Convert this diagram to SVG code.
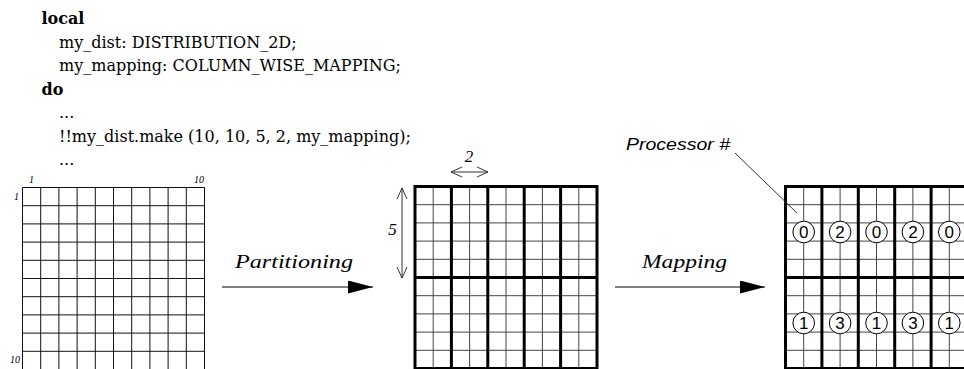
<svg xmlns="http://www.w3.org/2000/svg" width="964" height="369" viewBox="0 0 964 369">
<style>
.code{font-family:"DejaVu Serif","Liberation Serif",serif;font-size:16px;fill:#000}
.kw{font-weight:bold}
.idx{font-family:"Liberation Serif",serif;font-style:italic;font-size:10px;fill:#000}
.lbl{font-family:"Liberation Serif",serif;font-style:italic;font-size:18px;fill:#000}
.dim{font-family:"Liberation Serif",serif;font-style:italic;font-size:17px;fill:#000}
.proc{font-family:"Liberation Sans",Arial,sans-serif;font-style:italic;font-size:17px;fill:#000}
.num{font-family:"Liberation Sans",Arial,sans-serif;font-size:17px;fill:#000;text-anchor:middle}
.g1{stroke:#111;stroke-width:1;fill:none}
.thin{stroke:#444;stroke-width:1;fill:none}
.thick{stroke:#000;stroke-width:3;fill:none;stroke-linecap:square}
.pc{fill:#fff;stroke:#000;stroke-width:1}
.arr{stroke:#000;stroke-width:1.2;fill:none}
.darr{stroke:#333;stroke-width:1;fill:none}
</style>
<defs>
<marker id="solid" markerUnits="userSpaceOnUse" viewBox="0 0 25 13" refX="25" refY="6.5" markerWidth="25" markerHeight="13" orient="auto">
<path d="M0 0 L25 6.5 L0 13 Z" fill="#000"/>
</marker>
<marker id="open" markerUnits="userSpaceOnUse" viewBox="0 0 12 12" refX="11.5" refY="6" markerWidth="12" markerHeight="12" orient="auto-start-reverse">
<path d="M0.5 1 L11.5 6 L0.5 11" fill="none" stroke="#333" stroke-width="1"/>
</marker>
</defs>

<g id="code">
<text class="code kw" x="41.5" y="24">local</text>
<text class="code" x="59" y="47.5">my_dist: DISTRIBUTION_2D;</text>
<text class="code" x="59" y="71">my_mapping: COLUMN_WISE_MAPPING;</text>
<text class="code kw" x="41.5" y="94.5">do</text>
<text class="code" x="59" y="118">...</text>
<text class="code" x="59" y="141.5">!!my_dist.make (10, 10, 5, 2, my_mapping);</text>
<text class="code" x="59" y="165">...</text>
</g>

<g id="grid-source">
<path class="g1" d="M22.5 187.5V369.5M40.7 187.5V369.5M58.9 187.5V369.5M77.1 187.5V369.5M95.3 187.5V369.5M113.5 187.5V369.5M131.7 187.5V369.5M149.9 187.5V369.5M168.1 187.5V369.5M186.3 187.5V369.5M204.5 187.5V369.5M22.5 187.5H204.5M22.5 205.7H204.5M22.5 223.9H204.5M22.5 242.1H204.5M22.5 260.3H204.5M22.5 278.5H204.5M22.5 296.7H204.5M22.5 314.9H204.5M22.5 333.1H204.5M22.5 351.3H204.5M22.5 369.5H204.5"/>
<text class="idx" x="31.6" y="183" text-anchor="middle">1</text>
<text class="idx" x="204" y="183" text-anchor="end">10</text>
<text class="idx" x="19" y="199.5" text-anchor="end">1</text>
<text class="idx" x="20" y="363" text-anchor="end">10</text>
</g>

<g id="grid-partitioned">
<path class="thin" d="M433.2 186.5V368.5M469.6 186.5V368.5M506 186.5V368.5M542.4 186.5V368.5M578.8 186.5V368.5M415 204.7H597M415 222.9H597M415 241.1H597M415 259.3H597M415 295.7H597M415 313.9H597M415 332.1H597M415 350.3H597"/>
<path class="thick" d="M415 186.5V368.5M451.4 186.5V368.5M487.8 186.5V368.5M524.2 186.5V368.5M560.6 186.5V368.5M597 186.5V368.5M415 186.5H597M415 277.5H597M415 368.5H597"/>
</g>

<g id="grid-mapped">
<path class="thin" d="M803.7 186.5V368.5M840.1 186.5V368.5M876.5 186.5V368.5M912.9 186.5V368.5M949.3 186.5V368.5M785.5 204.7H967.5M785.5 222.9H967.5M785.5 241.1H967.5M785.5 259.3H967.5M785.5 295.7H967.5M785.5 313.9H967.5M785.5 332.1H967.5M785.5 350.3H967.5"/>
<path class="thick" d="M785.5 186.5V368.5M821.9 186.5V368.5M858.3 186.5V368.5M894.7 186.5V368.5M931.1 186.5V368.5M967.5 186.5V368.5M785.5 186.5H967.5M785.5 277.5H967.5M785.5 368.5H967.5"/>
</g>

<g id="processors">
<g id="p-top">
<circle class="pc" cx="803.7" cy="232" r="10.8"/><text class="num" x="803.7" y="238">0</text>
<circle class="pc" cx="840.1" cy="232" r="10.8"/><text class="num" x="840.1" y="238">2</text>
<circle class="pc" cx="876.5" cy="232" r="10.8"/><text class="num" x="876.5" y="238">0</text>
<circle class="pc" cx="912.9" cy="232" r="10.8"/><text class="num" x="912.9" y="238">2</text>
<circle class="pc" cx="949.3" cy="232" r="10.8"/><text class="num" x="949.3" y="238">0</text>
</g>
<g id="p-bottom">
<circle class="pc" cx="803.7" cy="323" r="10.8"/><text class="num" x="803.7" y="329">1</text>
<circle class="pc" cx="840.1" cy="323" r="10.8"/><text class="num" x="840.1" y="329">3</text>
<circle class="pc" cx="876.5" cy="323" r="10.8"/><text class="num" x="876.5" y="329">1</text>
<circle class="pc" cx="912.9" cy="323" r="10.8"/><text class="num" x="912.9" y="329">3</text>
<circle class="pc" cx="949.3" cy="323" r="10.8"/><text class="num" x="949.3" y="329">1</text>
</g>
</g>

<g id="labels">
<text class="lbl" x="235" y="268" textLength="118" lengthAdjust="spacingAndGlyphs">Partitioning</text>
<text class="lbl" x="642" y="268" textLength="85" lengthAdjust="spacingAndGlyphs">Mapping</text>
<text class="dim" x="469" y="162" text-anchor="middle">2</text>
<text class="dim" x="392.5" y="235" text-anchor="middle">5</text>
<text class="proc" x="626" y="150" textLength="104" lengthAdjust="spacingAndGlyphs">Processor #</text>
</g>

<g id="connectors">
<line class="arr" x1="222" y1="287" x2="373" y2="287" marker-end="url(#solid)"/>
<line class="arr" x1="615" y1="287" x2="765" y2="287" marker-end="url(#solid)"/>
<line class="darr" x1="451" y1="172" x2="488" y2="172" marker-start="url(#open)" marker-end="url(#open)"/>
<line class="darr" x1="402" y1="188" x2="402" y2="278" marker-start="url(#open)" marker-end="url(#open)"/>
<line class="darr" x1="735" y1="153" x2="797" y2="213"/>
</g>
</svg>
